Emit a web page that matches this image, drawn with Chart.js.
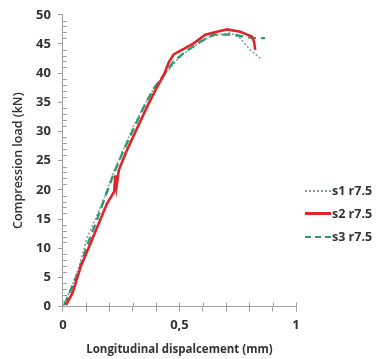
<!doctype html>
<html lang="en">
<head>
<meta charset="UTF-8">
<title>Compression load vs displacement</title>
<script src="https://cdn.jsdelivr.net/npm/chart.js"></script>
<style>
    body { margin: 0; background: #fff; }
    #wrap { position: relative; width: 384px; height: 359px; }
    #legend { position: absolute; left: 305px; top: 179px; font-family: "Open Sans", Arial; font-weight: 700; font-size: 12.5px; color: #333; }
    #legend div { height: 23px; display: flex; align-items: center; }
    #legend span.ln { display: inline-block; width: 26px; margin-right: 1px; }
</style>
</head>
<body>
<div id="wrap">
    <canvas id="myChart" width="384" height="359"></canvas>
    <div id="legend"></div>
</div>

<script>
    // series (displacement mm, load kN)
    var seriesNames = ['s1 r7.5', 's2 r7.5', 's3 r7.5'];

    var s1X = [0.003, 0.04, 0.07, 0.103, 0.141, 0.177, 0.219, 0.262, 0.305, 0.348, 0.39, 0.447, 0.504, 0.561, 0.632, 0.718, 0.761, 0.803, 0.853];
    var s1Y = [0.1, 3.7, 6.9, 11.7, 15.1, 18.6, 23.1, 27.1, 31.1, 34.3, 37.4, 40.3, 42.9, 44.6, 46.3, 46.9, 46.0, 44.0, 42.3];

    var s2X = [0.014, 0.041, 0.077, 0.113, 0.148, 0.19, 0.22, 0.225, 0.23, 0.24, 0.276, 0.319, 0.362, 0.397, 0.433, 0.455, 0.475, 0.511, 0.561, 0.611, 0.661, 0.704, 0.761, 0.81, 0.82, 0.825];
    var s2Y = [0.3, 2.3, 6.9, 10.3, 13.7, 17.7, 19.7, 22.5, 20.5, 23.4, 26.9, 30.6, 34.3, 37.1, 39.7, 41.9, 43.2, 44.0, 45.1, 46.6, 47.1, 47.5, 47.1, 46.3, 45.4, 44.0];

    var s3X = [0.006, 0.04, 0.07, 0.105, 0.141, 0.177, 0.219, 0.262, 0.305, 0.348, 0.39, 0.433, 0.476, 0.526, 0.59, 0.647, 0.732, 0.818, 0.867];
    var s3Y = [0.3, 3.4, 6.3, 10.6, 14.3, 18.3, 22.9, 26.9, 30.6, 34.3, 37.4, 39.7, 42.0, 43.7, 45.4, 46.6, 46.6, 46.0, 46.0];

    var xLabels = { 0: '0', 5: '0,5', 10: '1' };

    function pts(xs, ys) {
        return xs.map(function (x, i) { return { x: x, y: ys[i] }; });
    }

    var styles = [
        { color: '#8a98a8', width: 1.6, dash: [2, 2], order: 2, css: 'dotted' },
        { color: '#e0242a', width: 2.6, dash: [], order: 0, css: 'solid' },
        { color: '#2f9a6c', width: 2.4, dash: [8, 5], order: 1, css: 'dashed' }
    ];

    var allData = [pts(s1X, s1Y), pts(s2X, s2Y), pts(s3X, s3Y)];

    var datasets = seriesNames.map(function (name, i) {
        return {
            label: name,
            data: allData[i],
            borderColor: styles[i].color,
            borderWidth: styles[i].width,
            borderDash: styles[i].dash,
            order: styles[i].order,
            pointRadius: 0,
            tension: 0,
            fill: false
        };
    });

    // small inner tick marks like the original axes
    var innerTicks = {
        id: 'innerTicks',
        afterDraw: function (chart) {
            var c = chart.ctx, xs = chart.scales.x, ys = chart.scales.y;
            c.save();
            c.strokeStyle = '#a0a0a0';
            c.lineWidth = 1;
            c.beginPath();
            for (var v = 0; v <= 50; v++) {
                var py = Math.round(ys.getPixelForValue(v)) + 0.5;
                c.moveTo(xs.left, py);
                c.lineTo(xs.left + (v % 5 === 0 ? 0 : 4), py);
            }
            for (var k = 1; k <= 10; k++) {
                var px = Math.round(xs.getPixelForValue(k / 10)) + 0.5;
                c.moveTo(px, ys.bottom);
                c.lineTo(px, ys.bottom - 4);
            }
            c.stroke();
            c.restore();
        }
    };

    var font = { family: '"Open Sans", Arial', weight: 'bold', size: 13 };

    var ctx = document.getElementById('myChart');
    var myChart = new Chart(ctx, {
        type: 'line',
        data: { datasets: datasets },
        options: {
            responsive: false,
            animation: false,
            layout: { padding: { top: 14, right: 88, left: 11, bottom: 2 } },
            plugins: { legend: { display: false }, tooltip: { enabled: false } },
            scales: {
                x: {
                    type: 'linear',
                    min: 0, max: 1,
                    border: { color: '#a0a0a0' },
                    grid: { drawOnChartArea: false, tickLength: 5, color: '#a0a0a0' },
                    ticks: {
                        stepSize: 0.1,
                        autoSkip: false,
                        maxRotation: 0,
                        color: '#333',
                        font: font,
                        padding: 6,
                        callback: function (v) {
                            var k = Math.round(v * 10);
                            return xLabels[k] !== undefined ? xLabels[k] : '';
                        }
                    },
                    title: {
                        display: true,
                        text: 'Longitudinal dispalcement (mm)',
                        color: '#333',
                        font: { family: '"Open Sans", Arial', weight: 'bold', size: 11.5 },
                        padding: { top: 4, bottom: 0 }
                    }
                },
                y: {
                    min: 0, max: 50,
                    border: { color: '#a0a0a0' },
                    grid: { drawOnChartArea: false, tickLength: 5, color: '#a0a0a0' },
                    ticks: { stepSize: 5, color: '#333', font: font, padding: 7 },
                    title: {
                        display: true,
                        text: 'Compression load (kN)',
                        color: '#333',
                        font: { family: '"Open Sans", Arial', weight: '600', size: 12.5 },
                        padding: { top: 0, bottom: 3 }
                    }
                }
            }
        },
        plugins: [innerTicks]
    });

    // legend on the right, as in the original
    var legend = document.getElementById('legend');
    seriesNames.forEach(function (name, i) {
        var row = document.createElement('div');
        var ln = document.createElement('span');
        ln.className = 'ln';
        ln.style.borderTop = (i === 1 ? 3 : 2) + 'px ' + styles[i].css + ' ' + styles[i].color;
        row.appendChild(ln);
        row.appendChild(document.createTextNode(name));
        legend.appendChild(row);
    });
</script>
</body>
</html>
